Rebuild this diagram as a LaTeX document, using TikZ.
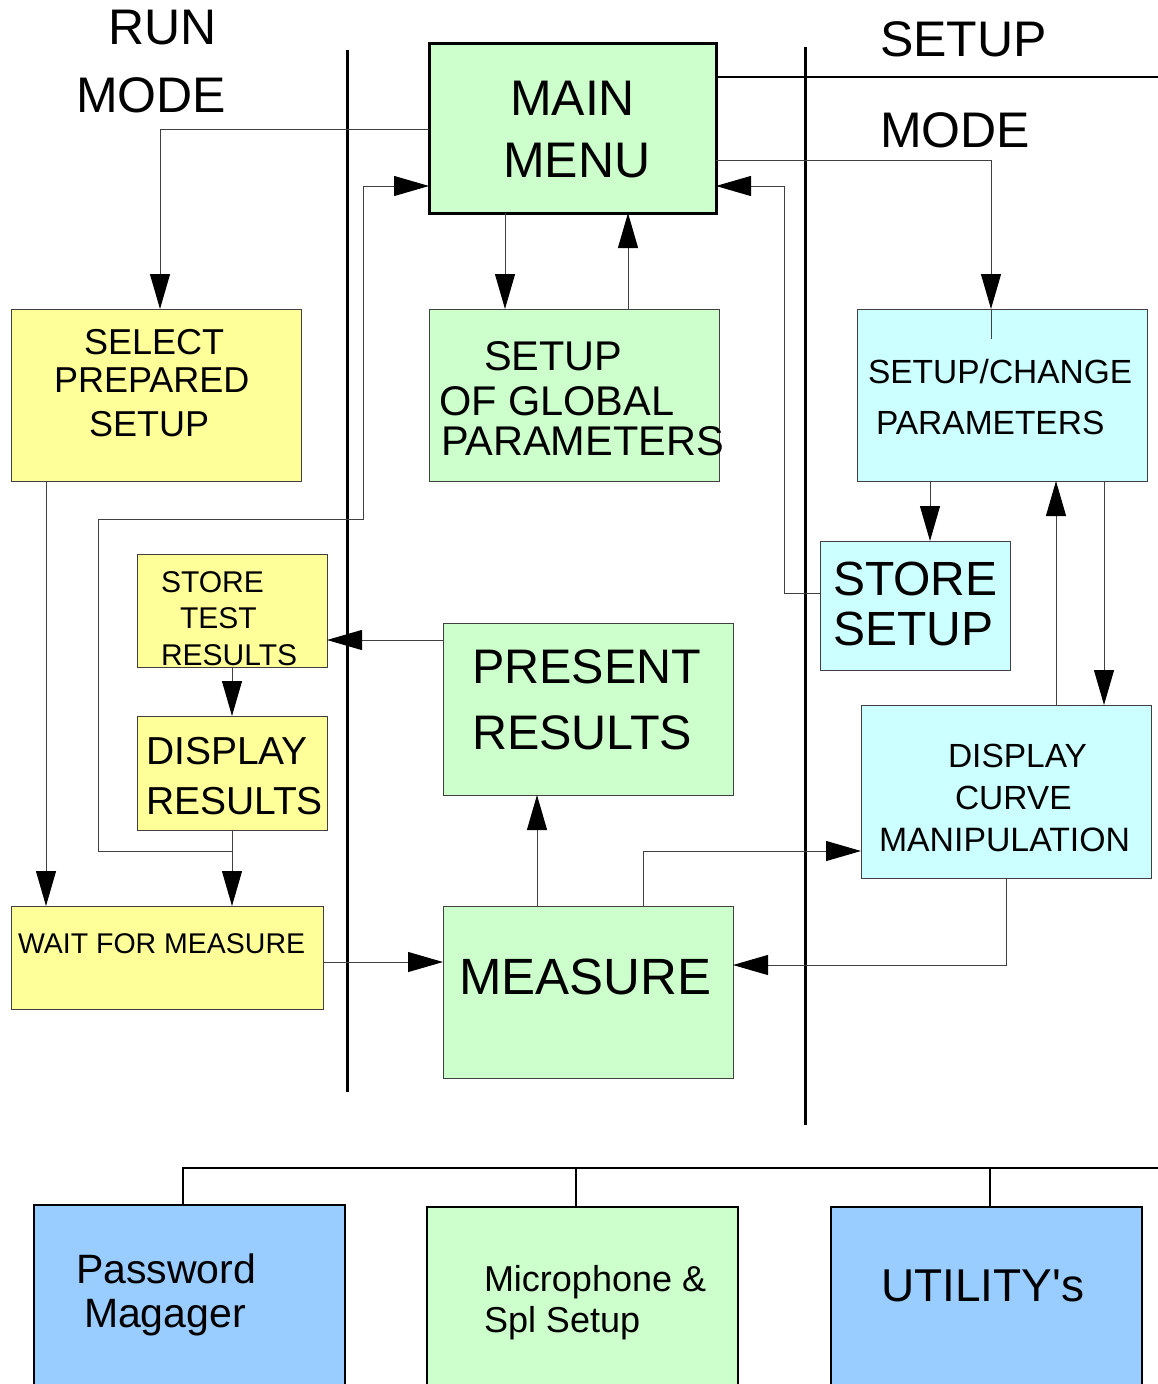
\documentclass[tikz,border=0pt]{standalone}
\usepackage{fontspec}
\setmainfont{Liberation Sans}
\newfontfamily\utilfont[Ligatures=TeXOff]{Liberation Sans}
\usetikzlibrary{arrows.meta,calc}
\newcommand\fsz[1]{\fontsize{#1}{#1}\selectfont}
\definecolor{cyel}{HTML}{FFFF99}
\definecolor{cgrn}{HTML}{CCFFCC}
\definecolor{ccyn}{HTML}{CCFFFF}
\definecolor{cblu}{HTML}{99CCFF}
\definecolor{cline}{HTML}{404040}
\begin{document}
\begin{tikzpicture}[x=1pt,y=-1pt,
  box/.style={draw=cline, line width=1pt, anchor=north west, inner sep=0pt, outer sep=0pt},
  bigbox/.style={draw=black, line width=3pt, anchor=north west, inner sep=0pt, outer sep=0pt},
  botbox/.style={draw=black, line width=1.5pt, anchor=north west, inner sep=0pt, outer sep=0pt},
  txt/.style={anchor=base west, inner sep=0pt, outer sep=0pt},
  conn/.style={draw=cline, line width=1pt},
  arr/.style={conn, -{Triangle[length=35pt,width=20pt,fill=black,color=black]}},
  divider/.style={draw=black, line width=3pt},
  bus/.style={draw=black, line width=1.5pt},
]
\useasboundingbox (0,0) rectangle (1158,1384);

% dividers
\coordinate (d1a) at (347,50);   \coordinate (d1b) at (347,1092);
\coordinate (d2a) at (805,47);   \coordinate (d2b) at (805,1125);
\coordinate (hEnd) at (1158,77);
\draw[divider] (d1a) -- (d1b);
\draw[divider] (d2a) -- (d2b);

% boxes
\node[bigbox, fill=cgrn, minimum width=287pt, minimum height=170pt] (main) at (429,43) {};
\node[box, fill=cyel, minimum width=290pt, minimum height=172pt] (select) at (11,309) {};
\node[box, fill=cgrn, minimum width=290pt, minimum height=172pt] (global) at (429,309) {};
\node[box, fill=ccyn, minimum width=290pt, minimum height=172pt] (setchg) at (857,309) {};
\node[box, fill=cyel, minimum width=190pt, minimum height=113pt] (storetest) at (137,554) {};
\node[box, fill=cyel, minimum width=190pt, minimum height=114pt] (dispr) at (137,716) {};
\node[box, fill=ccyn, minimum width=190pt, minimum height=129pt] (storeset) at (820,541) {};
\node[box, fill=cgrn, minimum width=290pt, minimum height=172pt] (present) at (443,623) {};
\node[box, fill=ccyn, minimum width=290pt, minimum height=173pt] (curve) at (861,705) {};
\node[box, fill=cyel, minimum width=312pt, minimum height=103pt] (wait) at (11,906) {};
\node[box, fill=cgrn, minimum width=290pt, minimum height=172pt] (measure) at (443,906) {};
\node[botbox, fill=cblu, minimum width=311pt, minimum height=200pt] (pw) at (34,1205) {};
\node[botbox, fill=cgrn, minimum width=311pt, minimum height=200pt] (mic) at (427,1207) {};
\node[botbox, fill=cblu, minimum width=311pt, minimum height=200pt] (util) at (831,1207) {};

\draw[black, line width=2pt] ($(main.north east)+(0,34)$) -- (hEnd);

% texts
\node[txt, font=\fsz{50}] (tRun) at (108,44) {RUN};
\node[txt, font=\fsz{50}] (tModeL) at (76,112) {MODE};
\node[txt, font=\fsz{50}] (tSetupR) at (880,56) {SETUP};
\node[txt, font=\fsz{50}] (tModeR) at (880,147) {MODE};
\node[txt, font=\fsz{50}] (tMain1) at (510,115) {MAIN};
\node[txt, font=\fsz{50}] (tMain2) at (503,177) {MENU};
\node[txt, font=\fsz{36}] (tSel1) at (84,354) {SELECT};
\node[txt, font=\fsz{36}] (tSel2) at (54,392) {PREPARED};
\node[txt, font=\fsz{36}] (tSel3) at (89,436) {SETUP};
\node[txt, font=\fsz{41.5}] (tGl1) at (484,370) {SETUP};
\node[txt, font=\fsz{41.5}] (tGl2) at (439,415) {OF GLOBAL};
\node[txt, font=\fsz{41.5}] (tGl3) at (441,455) {PARAMETERS};
\node[txt, font=\fsz{33.5}] (tSc1) at (868,383) {SETUP/CHANGE};
\node[txt, font=\fsz{33.5}] (tSc2) at (876,434) {PARAMETERS};
\node[txt, font=\fsz{30}] (tSt1) at (161,592) {STORE};
\node[txt, font=\fsz{30}] (tSt2) at (180,628) {TEST};
\node[txt, font=\fsz{30}] (tSt3) at (161,665) {RESULTS};
\node[txt, font=\fsz{39}] (tDr1) at (146,764) {DISPLAY};
\node[txt, font=\fsz{39}] (tDr2) at (146,814) {RESULTS};
\node[txt, font=\fsz{48.5}] (tPr1) at (472,683) {PRESENT};
\node[txt, font=\fsz{48.5}] (tPr2) at (472,749) {RESULTS};
\node[txt, font=\fsz{48}] (tSs1) at (833,595) {STORE};
\node[txt, font=\fsz{48}] (tSs2) at (833,645) {SETUP};
\node[txt, font=\fsz{33.5}] (tCv1) at (948,767) {DISPLAY};
\node[txt, font=\fsz{33.5}] (tCv2) at (955,809) {CURVE};
\node[txt, font=\fsz{33.8}] (tCv3) at (879,851) {MANIPULATION};
\node[txt, font=\fsz{28.5}] (tWait) at (18,953) {WAIT FOR MEASURE};
\node[txt, font=\fsz{51}] (tMeas) at (459,994) {MEASURE};
\node[txt, font=\fsz{41}] (tPw1) at (76,1283) {Password};
\node[txt, font=\fsz{41}] (tPw2) at (84,1327) {Magager};
\node[txt, font=\fsz{36}] (tMic1) at (484,1291) {Microphone \&};
\node[txt, font=\fsz{36}] (tMic2) at (484,1332) {Spl Setup};
\node[txt, font=\utilfont\fsz{46}] (tUtil) at (881,1301) {UTILITY's};

% connectors
\draw[arr] ($(main.north west)+(0,86)$) -| ($(select.north west)+(149,0)$);
\draw[arr] ($(select.south west)+(35,0)$) -- ($(wait.north west)+(35,0)$);
\draw[arr] ($(storetest.south west)+(95,0)$) -- ($(dispr.north west)+(95,0)$);
\draw[arr] ($(dispr.south west)+(95,0)$) -- ($(wait.north west)+(221,0)$);
\coordinate (j1) at ($(dispr.south west)+(95,21)$);
\draw[arr] (j1) -| (98,519) -| (363,186) -- ($(main.north west)+(0,143)$);
\draw[arr] ($(main.south west)+(76,0)$) -- ($(global.north west)+(76,0)$);
\draw[arr] ($(global.north west)+(199,0)$) -- ($(main.south west)+(199,0)$);
\draw[arr] ($(main.north east)+(0,117)$) -| ($(setchg.north west)+(134,0)$);
\draw[conn] ($(setchg.north west)+(134,0)$) -- ++(0,30);
\draw[arr] ($(storeset.north west)+(0,52)$) -| (784,186) -- ($(main.north east)+(0,143)$);
\draw[arr] ($(present.north west)+(0,17)$) -- ($(storetest.north east)+(0,86)$);
\draw[arr] ($(setchg.south west)+(73,0)$) -- ($(storeset.north west)+(110,0)$);
\draw[arr] ($(curve.north west)+(195,0)$) -- ($(setchg.south west)+(199,0)$);
\draw[arr] ($(setchg.south west)+(247,0)$) -- ($(curve.north west)+(243,0)$);
\draw[arr] ($(measure.north west)+(200,0)$) |- ($(curve.north west)+(0,146)$);
\draw[arr] ($(curve.south west)+(145,0)$) |- ($(measure.north east)+(0,59)$);
\draw[arr] ($(measure.north west)+(94,0)$) -- ($(present.south west)+(94,0)$);
\draw[arr] ($(wait.north east)+(0,56)$) -- ($(measure.north west)+(0,56)$);

% bottom tree
\coordinate (busE) at (1158,1168);
\draw[bus] ($(pw.north west)+(149,0)$) |- (busE);
\draw[bus] ($(mic.north west)+(149,0)$) -- ++(0,-39);
\draw[bus] ($(util.north west)+(159,0)$) -- ++(0,-39);
\end{tikzpicture}
\end{document}
